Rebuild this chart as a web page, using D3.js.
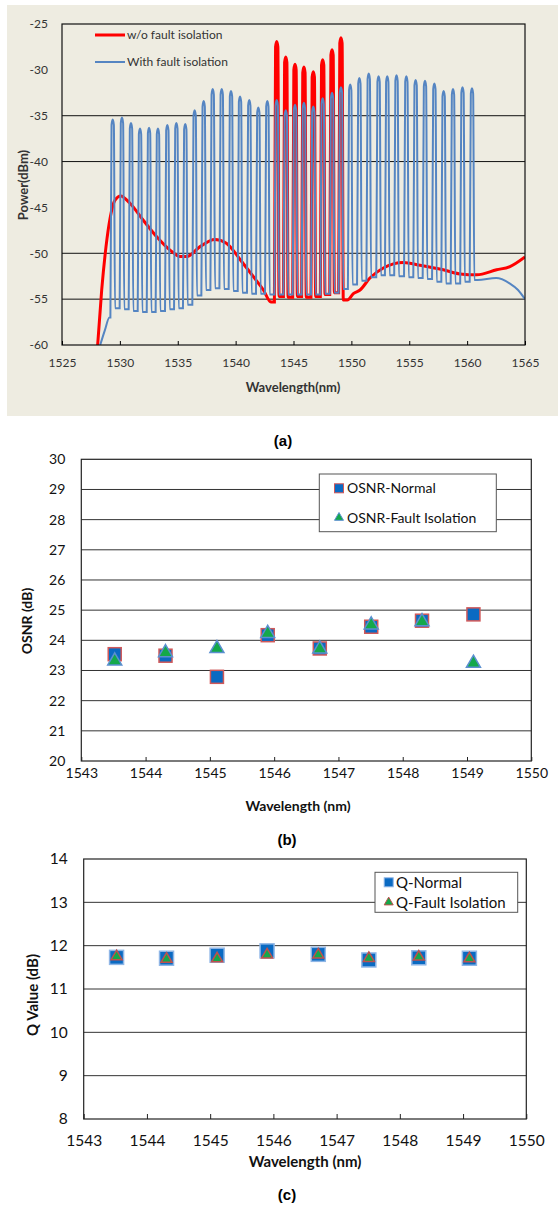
<html>
<head>
  <meta charset="utf-8">
  <style type="text/css">
    body { margin: 0; background: #fff; }
    text { font-family: Lato, "Open Sans", sans-serif; }
  </style>
</head>
<body>
  <div id="viz"></div>
  <script src="https://cdnjs.cloudflare.com/ajax/libs/d3/7.8.5/d3.min.js"></script>
  <script>
  // ---- (a) spectrum data ----
  // channel centre wavelengths (nm), peak power and the floor right after each channel (dBm)
  const blueWaves = [1529.38, 1530.18, 1530.96, 1531.74, 1532.52, 1533.29, 1534.10, 1534.88, 1535.65, 1536.46,
    1537.24, 1538.02, 1538.80, 1539.60, 1540.38, 1541.18, 1541.96, 1542.74, 1543.55, 1544.33,
    1545.13, 1545.90, 1546.71, 1547.52, 1548.33, 1549.10, 1549.90, 1550.69, 1551.50, 1552.35,
    1553.10, 1553.90, 1554.75, 1555.55, 1556.36, 1557.17, 1557.97, 1558.78, 1559.60, 1560.42];
  const bluePeaks = [-35.4, -35.2, -35.8, -36.4, -36.3, -36.4, -36.0, -35.8, -35.9, -34.4,
    -33.4, -32.1, -32.1, -32.3, -32.9, -33.3, -34.1, -33.4, -33.3, -34.4,
    -33.8, -33.6, -34.0, -33.1, -32.5, -31.9, -31.6, -30.9, -30.4, -30.7,
    -30.7, -30.6, -30.7, -31.1, -31.2, -31.5, -32.3, -32.1, -31.9, -32.0];
  const blueFloors = [-56.0, -56.1, -56.3, -56.4, -56.4, -56.3, -56.1, -56.0, -55.6, -54.6,
    -54.0, -53.8, -53.9, -54.1, -54.3, -54.4, -54.4, -54.5, -54.5, -54.5,
    -54.5, -54.5, -54.5, -54.4, -54.3, -53.9, -53.4, -53.0, -52.6, -52.4,
    -52.4, -52.5, -52.6, -52.7, -52.8, -53.1, -53.3, -53.3, -53.1, -52.9];
  const blueLead = [[1528.3, -60], [1528.7, -58.4], [1529.1, -57.0]];
  const blueTail = [[1560.9, -52.9], [1562.5, -52.7], [1563.7, -53.3], [1564.4, -54.0], [1565, -55.0]];

  const redWaves = [1543.55, 1544.33, 1545.13, 1545.90, 1546.71, 1547.52, 1548.33, 1549.10];
  const redPeaks = [-26.9, -28.6, -29.4, -29.7, -30.2, -28.9, -27.8, -26.5];
  const redFloors = [-54.7, -54.8, -54.7, -54.8, -54.7, -54.5, -54.3, -55.1];
  const redLead = [[1528.08, -60], [1528.43, -54.0], [1528.8, -49.3], [1529.15, -46.2], [1529.58, -44.2],
    [1530.07, -43.75], [1530.87, -44.55], [1532.02, -46.4], [1533.18, -48.2], [1534.33, -49.65],
    [1535.2, -50.35], [1535.8, -50.35], [1536.9, -49.3], [1538.2, -48.5], [1539.2, -48.9],
    [1540.4, -50.7], [1541.5, -52.5], [1542.4, -54.0], [1543.05, -55.3]];
  const redTail = [[1549.65, -55.1], [1550.17, -54.4], [1550.75, -54.0], [1551.6, -52.7], [1552.76, -51.6],
    [1554.49, -51.0], [1555.93, -51.3], [1557.94, -51.8], [1559.38, -52.25], [1560.83, -52.35],
    [1562.55, -51.8], [1563.7, -51.45], [1565, -50.4]];

  const aXTicks = [1525, 1530, 1535, 1540, 1545, 1550, 1555, 1560, 1565];
  const aYTicks = [-25, -30, -35, -40, -45, -50, -55, -60];
  const aGrid = [-35, -40, -50, -55];

  // ---- (b) OSNR, (c) Q ----
  const chWaves = [1543.52, 1544.31, 1545.11, 1545.90, 1546.71, 1547.51, 1548.30, 1549.10];
  const osnrNormal = [23.54, 23.49, 22.79, 24.17, 23.73, 24.45, 24.65, 24.86];
  const osnrFault = [23.32, 23.59, 23.73, 24.23, 23.71, 24.51, 24.62, 23.24];
  const qNormal = [11.73, 11.71, 11.78, 11.88, 11.80, 11.67, 11.72, 11.71];
  const qFault = [11.75, 11.69, 11.70, 11.79, 11.79, 11.71, 11.74, 11.70];

  const bcXTicks = [1543, 1544, 1545, 1546, 1547, 1548, 1549, 1550];
  const bYTicks = [20, 21, 22, 23, 24, 25, 26, 27, 28, 29, 30];
  const cYTicks = [8, 9, 10, 11, 12, 13, 14];

  const plain = d => String(d);

  const svg = d3.select('#viz').append('svg')
    .attr('width', 558)
    .attr('height', 1208);

  // peak shape (style only): edge offset, cap half width, cap drop
  const EDGE = 0.2, CAP = 0.1, DROP = 0.6;
  const spectrum = (lead, waves, peaks, floors, tail) => {
    let pts = lead.slice();
    waves.forEach((w, i) => {
      const prev = i === 0 ? lead[lead.length - 1][1] : floors[i - 1];
      pts.push([w - EDGE, prev], [w - CAP, peaks[i] - DROP], [w, peaks[i]],
        [w + CAP, peaks[i] - DROP], [w + EDGE, floors[i]]);
    });
    return pts.concat(tail);
  };

  // ================= (a) =================
  svg.append('rect')
    .attr('x', 7).attr('y', 5).attr('width', 551).attr('height', 411)
    .attr('fill', '#eeece1');

  const aX = d3.scaleLinear().domain([1525, 1565]).range([62, 525]);
  const aY = d3.scaleLinear().domain([-60, -25]).range([345, 24]);

  const a = svg.append('g');

  a.selectAll('.agrid').data(aGrid).enter().append('line')
    .attr('x1', aX(1525)).attr('x2', aX(1565))
    .attr('y1', d => aY(d)).attr('y2', d => aY(d))
    .attr('stroke', '#111').attr('stroke-width', 1);

  a.append('clipPath').attr('id', 'aclip').append('rect')
    .attr('x', aX(1525)).attr('y', aY(-25))
    .attr('width', aX(1565) - aX(1525)).attr('height', aY(-60) - aY(-25));

  const aLine = d3.line().x(d => aX(d[0])).y(d => aY(d[1])).curve(d3.curveMonotoneX);

  a.append('path')
    .datum(spectrum(redLead, redWaves, redPeaks, redFloors, redTail))
    .attr('clip-path', 'url(#aclip)')
    .attr('d', aLine)
    .attr('fill', 'none').attr('stroke', '#ff0000').attr('stroke-width', 3);

  a.append('path')
    .datum(spectrum(blueLead, blueWaves, bluePeaks, blueFloors, blueTail))
    .attr('clip-path', 'url(#aclip)')
    .attr('d', aLine)
    .attr('fill', 'none').attr('stroke', '#5585c2').attr('stroke-width', 2);

  // frame
  a.append('rect')
    .attr('x', aX(1525)).attr('y', aY(-25))
    .attr('width', aX(1565) - aX(1525)).attr('height', aY(-60) - aY(-25))
    .attr('fill', 'none').attr('stroke', '#111').attr('stroke-width', 1.2);

  const aXAxis = a.append('g')
    .attr('transform', 'translate(0,' + aY(-60) + ')')
    .call(d3.axisBottom(aX).tickValues(aXTicks).tickFormat(plain)
      .tickSizeInner(-4).tickSizeOuter(0).tickPadding(13));
  aXAxis.select('.domain').remove();
  aXAxis.selectAll('text').attr('font-size', 12).attr('fill', '#333').style('font-family', 'Lato');

  const aYAxis = a.append('g')
    .attr('transform', 'translate(' + aX(1525) + ',0)')
    .call(d3.axisLeft(aY).tickValues(aYTicks).tickFormat(plain).tickSize(0).tickPadding(14));
  aYAxis.select('.domain').remove();
  aYAxis.selectAll('text').attr('font-size', 12).attr('fill', '#333').style('font-family', 'Lato');

  a.append('text')
    .attr('x', 293).attr('y', 387).attr('dy', '0.35em')
    .attr('text-anchor', 'middle').attr('font-size', 13).attr('font-weight', 'bold').attr('fill', '#333')
    .text('Wavelength(nm)');
  a.append('text')
    .attr('transform', 'translate(23,185) rotate(-90)').attr('dy', '0.35em')
    .attr('text-anchor', 'middle').attr('font-size', 13).attr('font-weight', 'bold').attr('fill', '#333')
    .text('Power(dBm)');

  // legend (a)
  const aLegend = [
    { name: 'w/o fault isolation', color: '#ff0000', width: 3, y: 35 },
    { name: 'With fault isolation', color: '#5585c2', width: 2, y: 62 }
  ];
  aLegend.forEach(l => {
    a.append('line').attr('x1', 95).attr('x2', 125).attr('y1', l.y).attr('y2', l.y)
      .attr('stroke', l.color).attr('stroke-width', l.width);
    a.append('text').attr('x', 127).attr('y', l.y).attr('dy', '0.35em')
      .attr('font-size', 12).attr('fill', '#333').text(l.name);
  });

  // panel labels
  const panelLabel = (txt, x, y) => svg.append('text')
    .attr('x', x).attr('y', y).attr('dy', '0.35em').attr('text-anchor', 'middle')
    .style('font-family', '"Liberation Sans", Arial, sans-serif')
    .attr('font-size', 15).attr('font-weight', 'bold').attr('fill', '#000').text(txt);
  panelLabel('(a)', 283, 441);
  panelLabel('(b)', 287, 840);
  panelLabel('(c)', 287, 1195);

  // ================= (b) and (c) =================
  const scatter = (opt) => {
    const x = d3.scaleLinear().domain([1543, 1550]).range(opt.xr);
    const y = d3.scaleLinear().domain(opt.yd).range(opt.yr);
    const g = svg.append('g');

    g.selectAll('.grid').data(opt.yTicks.slice(1, -1)).enter().append('line')
      .attr('x1', opt.xr[0]).attr('x2', opt.xr[1])
      .attr('y1', d => y(d)).attr('y2', d => y(d))
      .attr('stroke', '#333').attr('stroke-width', 1);

    g.append('rect')
      .attr('x', opt.xr[0]).attr('y', opt.yr[1])
      .attr('width', opt.xr[1] - opt.xr[0]).attr('height', opt.yr[0] - opt.yr[1])
      .attr('fill', 'none').attr('stroke', '#222').attr('stroke-width', 1.2);

    const xa = g.append('g').attr('transform', 'translate(0,' + opt.yr[0] + ')')
      .call(d3.axisBottom(x).tickValues(bcXTicks).tickFormat(plain)
        .tickSizeInner(-opt.tick).tickSizeOuter(0).tickPadding(opt.xPad));
    xa.select('.domain').remove();
    xa.selectAll('line').attr('stroke', '#222');
    xa.selectAll('text').attr('font-size', opt.fs).attr('fill', '#111').style('font-family', 'Lato');

    const ya = g.append('g').attr('transform', 'translate(' + opt.xr[0] + ',0)')
      .call(d3.axisLeft(y).tickValues(opt.yTicks).tickFormat(plain).tickSize(0).tickPadding(16));
    ya.select('.domain').remove();
    ya.selectAll('text').attr('font-size', opt.fs).attr('fill', '#111').style('font-family', 'Lato');

    g.append('text')
      .attr('x', opt.xTitle[0]).attr('y', opt.xTitle[1]).attr('dy', '0.35em')
      .attr('text-anchor', 'middle').attr('font-size', opt.tfs).attr('font-weight', 'bold').attr('fill', '#111')
      .text('Wavelength (nm)');
    g.append('text')
      .attr('transform', 'translate(' + opt.yTitle[0] + ',' + opt.yTitle[1] + ') rotate(-90)').attr('dy', '0.35em')
      .attr('text-anchor', 'middle').attr('font-size', opt.tfs).attr('font-weight', 'bold').attr('fill', '#111')
      .text(opt.yLabel);

    const sq = opt.sq, tri = opt.tri;
    g.selectAll('.sq').data(opt.normal).enter().append('rect')
      .attr('x', (d, i) => x(chWaves[i]) - sq.size / 2)
      .attr('y', d => y(d) - sq.size / 2)
      .attr('width', sq.size).attr('height', sq.size)
      .attr('fill', sq.fill).attr('stroke', sq.stroke).attr('stroke-width', 1.5);

    const triSym = d3.symbol().type(d3.symbolTriangle).size(tri.size * tri.size * Math.sqrt(3) / 4);
    g.selectAll('.tri').data(opt.fault).enter().append('path')
      .attr('transform', (d, i) => 'translate(' + x(chWaves[i]) + ',' + y(d) + ')')
      .attr('d', triSym)
      .attr('fill', tri.fill).attr('stroke', tri.stroke).attr('stroke-width', 1.5);

    // legend
    const L = opt.legend;
    g.append('rect').attr('x', L.box[0]).attr('y', L.box[1]).attr('width', L.box[2]).attr('height', L.box[3])
      .attr('fill', '#fff').attr('stroke', '#555').attr('stroke-width', 1);
    g.append('rect').attr('x', L.mx - L.ms / 2).attr('y', L.ys[0] - L.ms / 2)
      .attr('width', L.ms).attr('height', L.ms)
      .attr('fill', sq.fill).attr('stroke', sq.stroke).attr('stroke-width', 1);
    g.append('path').attr('transform', 'translate(' + L.mx + ',' + L.ys[1] + ')')
      .attr('d', d3.symbol().type(d3.symbolTriangle).size(L.ms * L.ms * Math.sqrt(3) / 4))
      .attr('fill', tri.fill).attr('stroke', tri.stroke).attr('stroke-width', 1);
    L.names.forEach((n, i) => {
      g.append('text').attr('x', L.tx).attr('y', L.ys[i]).attr('dy', '0.35em')
        .attr('font-size', L.fs).attr('fill', '#111').text(n);
    });
  };

  scatter({
    xr: [81.3, 531.3], yd: [20, 30], yr: [761, 459.3], yTicks: bYTicks,
    tick: 4, xPad: 7, fs: 14, tfs: 14,
    xTitle: [298, 806], yTitle: [27, 621], yLabel: 'OSNR (dB)',
    normal: osnrNormal, fault: osnrFault,
    sq: { size: 13, fill: '#0a6ac2', stroke: '#d0595a' },
    tri: { size: 14, fill: '#14a84a', stroke: '#5b8fd0' },
    legend: { box: [319.3, 474, 177, 57.7], mx: 339, ms: 9, tx: 347, ys: [488.3, 517.7], fs: 14,
      names: ['OSNR-Normal', 'OSNR-Fault Isolation'] }
  });

  scatter({
    xr: [83.7, 526.3], yd: [8, 14], yr: [1119, 859], yTicks: cYTicks,
    tick: 5, xPad: 16, fs: 15.5, tfs: 15,
    xTitle: [305, 1162], yTitle: [33, 995], yLabel: 'Q Value (dB)',
    normal: qNormal, fault: qFault,
    sq: { size: 14, fill: '#0a6ac2', stroke: '#8fb6e6' },
    tri: { size: 11, fill: '#14a84a', stroke: '#c0504d' },
    legend: { box: [375, 872.3, 142.7, 40], mx: 388.7, ms: 9, tx: 396, ys: [882.3, 902.3], fs: 15,
      names: ['Q-Normal', 'Q-Fault Isolation'] }
  });
  </script>
</body>
</html>
